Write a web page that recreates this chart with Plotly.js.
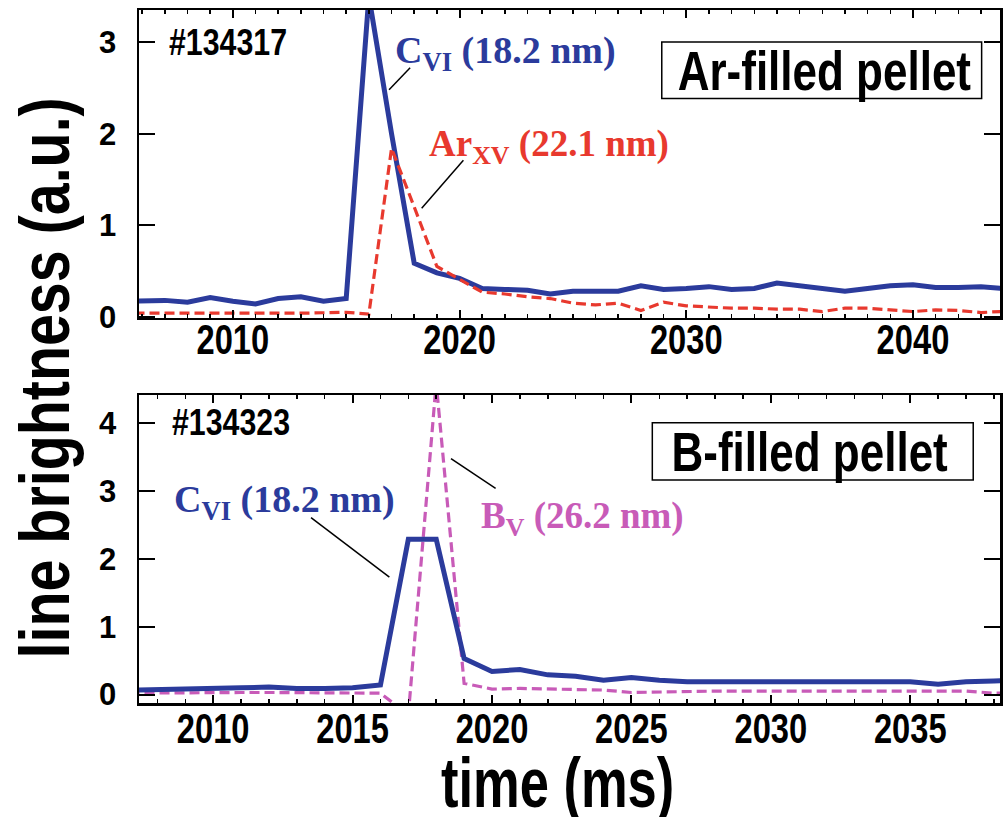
<!DOCTYPE html>
<html><head><meta charset="utf-8">
<script src="https://cdn.plot.ly/plotly-3.0.1.min.js"></script>
<style>html,body{margin:0;padding:0;background:#fff}#chart{width:1005px;height:817px}</style>
</head><body><div id="chart"></div>
<script>
// ---- data ----
const timeTop = [2005,2006,2007,2008,2009,2010,2011,2012,2013,2014,2015,2016,2017,2018,2019,2020,2021,2022,2023,2024,2025,2026,2027,2028,2029,2030,2031,2032,2033,2034,2035,2036,2037,2038,2039,2040,2041,2042,2043,2044];
const cviTop = [0.17,0.17,0.18,0.16,0.21,0.17,0.14,0.20,0.22,0.17,0.20,3.5,2.0,0.585,0.48,0.42,0.31,0.30,0.29,0.25,0.28,0.28,0.28,0.34,0.30,0.31,0.33,0.30,0.31,0.37,0.34,0.32,0.28,0.31,0.34,0.35,0.32,0.32,0.33,0.31];
const arxvTop = [0.04,0.04,0.04,0.035,0.04,0.04,0.035,0.04,0.04,0.045,0.05,0.03,1.84,1.2,0.55,0.41,0.27,0.25,0.22,0.20,0.15,0.13,0.15,0.07,0.16,0.12,0.11,0.095,0.095,0.084,0.084,0.058,0.095,0.095,0.076,0.058,0.076,0.07,0.047,0.06];

const timeBot = [2007,2008,2009,2010,2011,2012,2013,2014,2015,2016,2017,2018,2019,2020,2021,2022,2023,2024,2025,2026,2027,2028,2029,2030,2031,2032,2033,2034,2035,2036,2037,2038,2039];
const cviBot = [0.065,0.07,0.075,0.08,0.10,0.11,0.09,0.09,0.10,0.14,2.29,2.29,0.53,0.34,0.37,0.29,0.27,0.21,0.25,0.21,0.19,0.19,0.19,0.20,0.20,0.19,0.19,0.19,0.19,0.15,0.19,0.20,0.21];
const bvBot = [0.02,0.025,0.025,0.03,0.03,0.03,0.025,0.025,0.025,0.02,-0.3,4.6,0.165,0.08,0.09,0.08,0.066,0.066,0.03,0.04,0.05,0.05,0.05,0.05,0.05,0.05,0.05,0.05,0.05,0.05,0.05,0.02,0.02];

const topTicks = [0,1,2,3];
const botTicks = [0,1,2,3,4];

// ---- style ----
const BLUE = '#2b3b9c', RED = '#e8392e', MAG = '#c85bb8';
const SANS = '"Liberation Sans", Arial, sans-serif';
const SERIF = '"Liberation Serif", "Times New Roman", serif';
const TICK_SCALE = 0.76;   // horizontal condensing of the x tick labels

const traces = [
  {x: timeTop, y: cviTop, xaxis:'x', yaxis:'y', mode:'lines', line:{color:BLUE, width:5}},
  {x: timeTop, y: arxvTop, xaxis:'x', yaxis:'y', mode:'lines', line:{color:RED, width:3.2, dash:'10px,5px'}},
  {x: timeBot, y: bvBot, xaxis:'x2', yaxis:'y2', mode:'lines', line:{color:MAG, width:3.2, dash:'10px,5px'}},
  {x: timeBot, y: cviBot, xaxis:'x2', yaxis:'y2', mode:'lines', line:{color:BLUE, width:5}}
];

const axBase = {showline:true, linewidth:2.5, linecolor:'#000', mirror:'allticks', ticks:'inside', showgrid:false, zeroline:false, tickcolor:'#000'};
const xtick = {family:SANS, size:43, color:'#000', weight:'bold'};
const ytick = {family:SANS, size:31, color:'#000', weight:'bold'};

const layout = {
  width:1005, height:817, showlegend:false,
  paper_bgcolor:'#fff', plot_bgcolor:'#fff',
  margin:{l:139, r:5, t:10, b:114},
  xaxis: Object.assign({}, axBase, {domain:[0,1], anchor:'y', range:[2005.86,2043.84], tick0:2010, dtick:10, ticklen:8, tickwidth:2,
    minor:{dtick:1, tick0:2010, ticks:'inside', ticklen:4, tickwidth:1.5, tickcolor:'#000'}, tickfont:xtick, ticklabelstandoff:-18}),
  yaxis: Object.assign({}, axBase, {domain:[0.5556,1], anchor:'x', range:[-0.012,3.35], tickvals:topTicks, ticktext:topTicks.map(String), ticklen:16, tickwidth:2, tickfont:ytick, ticklabelstandoff:14}),
  xaxis2: Object.assign({}, axBase, {domain:[0,1], anchor:'y2', range:[2007.34,2038.22], tick0:2010, dtick:5, ticklen:8, tickwidth:2,
    minor:{dtick:1, tick0:2010, ticks:'inside', ticklen:4, tickwidth:1.5, tickcolor:'#000'}, tickfont:xtick, ticklabelstandoff:-14}),
  yaxis2: Object.assign({}, axBase, {domain:[0,0.4444], anchor:'x2', range:[-0.125,4.417], tickvals:botTicks, ticktext:botTicks.map(String), ticklen:16, tickwidth:2, tickfont:ytick, ticklabelstandoff:14}),
  shapes: [
    {type:'line', xref:'x', yref:'y', x0:2017.82, y0:2.72, x1:2016.89, y1:2.48, line:{color:'#000', width:1.5}},
    {type:'line', xref:'x', yref:'y', x0:2020.17, y0:1.71, x1:2018.33, y1:1.185, line:{color:'#000', width:1.5}},
    {type:'line', xref:'x2', yref:'y2', x0:2013.51, y0:2.61, x1:2016.32, y1:1.73, line:{color:'#000', width:1.5}},
    {type:'line', xref:'x2', yref:'y2', x0:2018.53, y0:3.48, x1:2020.13, y1:3.04, line:{color:'#000', width:1.5}},
    {type:'rect', xref:'x', yref:'y', x0:2028.92, x1:2043.03, y0:2.385, y1:3.002, line:{color:'#000', width:1.5}, fillcolor:'rgba(0,0,0,0)'},
    {type:'rect', xref:'x2', yref:'y2', x0:2025.75, x1:2037.26, y0:3.164, y1:4.009, line:{color:'#000', width:1.5}, fillcolor:'rgba(0,0,0,0)'}
  ],
  annotations: [
    {xref:'x', yref:'y', x:2009.77, y:3.0, xanchor:'center', yanchor:'middle', showarrow:false, text:'#134317', font:{family:SANS, size:37, color:'#000', weight:'bold'}, name:'0.82'},
    {xref:'x', yref:'y', x:2017.07, y:2.88, xanchor:'left', yanchor:'middle', showarrow:false, text:'C<sub>VI</sub> (18.2 nm)', font:{family:SERIF, size:38, color:BLUE, weight:'bold'}},
    {xref:'x', yref:'y', x:2018.55, y:1.86, xanchor:'left', yanchor:'middle', showarrow:false, text:'Ar<sub>XV</sub> (22.1 nm)', font:{family:SERIF, size:37, color:RED, weight:'bold'}},
    {xref:'x', yref:'y', x:2036.08, y:2.68, xanchor:'center', yanchor:'middle', showarrow:false, text:'Ar-filled pellet', font:{family:SANS, size:55, color:'#000', weight:'bold'}, name:'0.8'},
    {xref:'x2', yref:'y2', x:2010.64, y:4.01, xanchor:'center', yanchor:'middle', showarrow:false, text:'#134323', font:{family:SANS, size:37, color:'#000', weight:'bold'}, name:'0.82'},
    {xref:'x2', yref:'y2', x:2008.54, y:2.84, xanchor:'left', yanchor:'middle', showarrow:false, text:'C<sub>VI</sub> (18.2 nm)', font:{family:SERIF, size:38, color:BLUE, weight:'bold'}},
    {xref:'x2', yref:'y2', x:2019.53, y:2.6, xanchor:'left', yanchor:'middle', showarrow:false, text:'B<sub>V</sub> (26.2 nm)', font:{family:SERIF, size:37, color:MAG, weight:'bold'}},
    {xref:'x2', yref:'y2', x:2031.4, y:3.58, xanchor:'center', yanchor:'middle', showarrow:false, text:'B-filled pellet', font:{family:SANS, size:55, color:'#000', weight:'bold'}, name:'0.8'},
    {xref:'paper', yref:'paper', x:-0.109, y:0.469, xanchor:'center', yanchor:'middle', showarrow:false, textangle:-90, text:'line brightness (a.u.)', font:{family:SANS, size:70, color:'#000', weight:'bold'}, name:'0.82'},
    {xref:'paper', yref:'paper', x:0.486, y:-0.116, xanchor:'center', yanchor:'middle', showarrow:false, text:'time (ms)', font:{family:SANS, size:70, color:'#000', weight:'bold'}, name:'0.75'}
  ]
};

function condense(t, s) {
  const bb = t.getBBox();
  const cx = bb.x + bb.width / 2;
  const prior = t.getAttribute('transform') || '';
  t.setAttribute('transform', prior + ' translate(' + cx + ',0) scale(' + s + ',1) translate(' + (-cx) + ',0)');
}

Plotly.newPlot('chart', traces, layout, {staticPlot:true, displayModeBar:false}).then(function (gd) {
  gd.querySelectorAll('.xtick text, .x2tick text').forEach(function (t) { condense(t, TICK_SCALE); });
  const anns = gd.layout.annotations;
  gd.querySelectorAll('g.annotation').forEach(function (g) {
    const i = +g.getAttribute('data-index');
    if (anns[i] && anns[i].name) {
      const t = g.querySelector('text.annotation-text');
      if (t) condense(t, parseFloat(anns[i].name));
    }
  });
});
</script>
</body></html>
